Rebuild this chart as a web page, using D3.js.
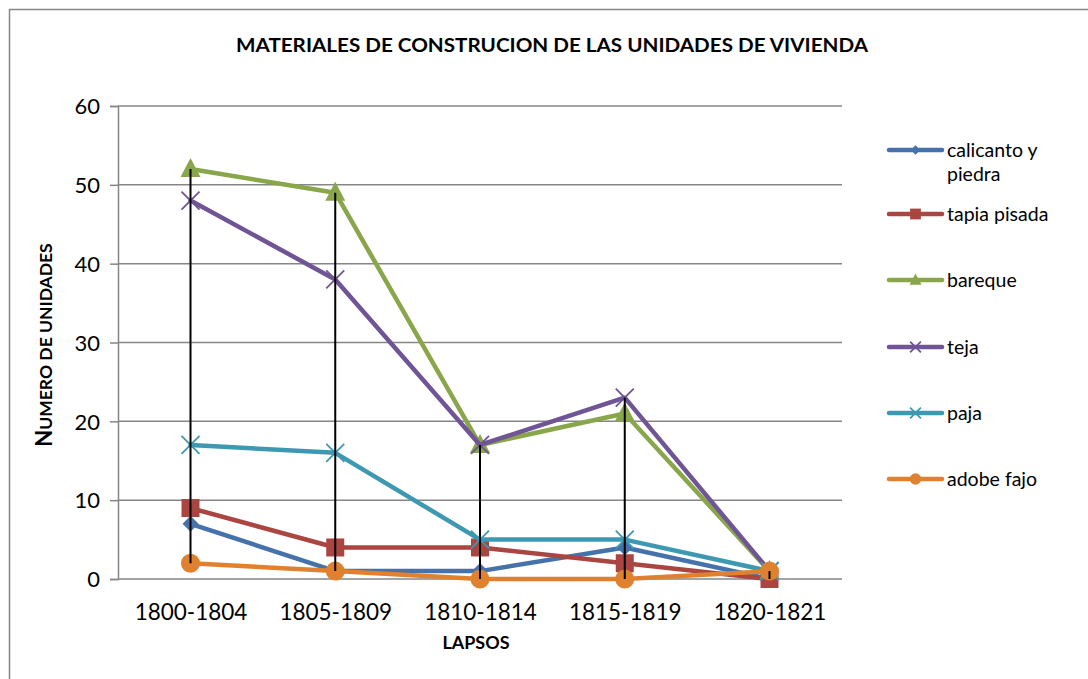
<!DOCTYPE html>
<html><head><meta charset="utf-8">
<script src="https://cdn.jsdelivr.net/npm/d3@7"></script>
<style>body{margin:0;background:#fff}svg{display:block}text{font-family:Lato,"Open Sans",sans-serif;fill:#000}</style>
</head><body>
<script>
const categories = ["1800-1804","1805-1809","1810-1814","1815-1819","1820-1821"];
const calicanto = [7,1,1,4,0];
const tapia = [9,4,4,2,0];
const bareque = [52,49,17,21,1];
const teja = [48,38,17,23,1];
const paja = [17,16,5,5,1];
const adobe = [2,1,0,0,1];
const yTicks = [0,10,20,30,40,50,60];
const seriesNames = ["calicanto y piedra","tapia pisada","bareque","teja","paja","adobe fajo"];

const series = [
  {name:seriesNames[0], values:calicanto, color:"#4672ab", marker:"diamond"},
  {name:seriesNames[1], values:tapia, color:"#aa4542", marker:"square"},
  {name:seriesNames[2], values:bareque, color:"#89a64b", marker:"triangle"},
  {name:seriesNames[3], values:teja, color:"#6f5596", marker:"x"},
  {name:seriesNames[4], values:paja, color:"#3d98b2", marker:"star"},
  {name:seriesNames[5], values:adobe, color:"#e0812f", marker:"circle"}
];

const W=1088,H=679;
const svg=d3.select("body").append("svg").attr("width",W).attr("height",H);
svg.append("rect").attr("x",9.5).attr("y",9.5).attr("width",1200).attr("height",800).attr("fill","none").attr("stroke","#868686").attr("stroke-width",1.5);

const x=d3.scalePoint().domain(categories).range([190.5,769.5]).padding(0);
const y=d3.scaleLinear().domain([0,60]).range([579,106]);
const left=118, right=842;

// gridlines
svg.append("g").selectAll("line").data(yTicks).join("line")
  .attr("x1",left).attr("x2",right).attr("y1",d=>y(d)).attr("y2",d=>y(d))
  .attr("stroke","#868686").attr("stroke-width",1.5);
// y axis
const yAxis=d3.axisLeft(y).tickValues(yTicks).tickSize(8).tickPadding(10);
const gy=svg.append("g").attr("transform",`translate(${left},0)`).call(yAxis);
gy.select(".domain").attr("stroke","#868686").attr("stroke-width",1.5);
gy.selectAll(".tick line").attr("stroke","#868686").attr("stroke-width",1.5);
gy.selectAll(".tick text").style("font-size","22px").attr("fill","#000").attr("dy","0.35em");
// x axis labels
const xAxis=d3.axisBottom(x).tickSize(0).tickPadding(27);
const gx=svg.append("g").attr("transform",`translate(0,${y(0)})`).call(xAxis);
gx.select(".domain").remove();
gx.selectAll(".tick text").style("font-size","22.5px").attr("fill","#000").attr("dy","0.6em");

// title
svg.append("text").attr("x",552).attr("y",52).attr("text-anchor","middle")
  .attr("textLength",632).attr("lengthAdjust","spacingAndGlyphs")
  .style("font-size","18.5px").style("font-weight","bold").text("MATERIALES DE CONSTRUCION DE LAS UNIDADES DE VIVIENDA");
svg.append("text").attr("x",476).attr("y",649).attr("text-anchor","middle")
  .attr("textLength",67).attr("lengthAdjust","spacingAndGlyphs")
  .style("font-size","16.5px").style("font-weight","bold").text("LAPSOS");
const yt=svg.append("text").attr("transform","translate(52,345) rotate(-90)").attr("text-anchor","middle")
  .style("font-weight","bold");
yt.append("tspan").style("font-size","22px").text("N");
yt.append("tspan").style("font-size","17.5px").text("UMERO DE UNIDADES");

const line=d3.line().x((d,i)=>x(categories[i])).y(d=>y(d));

function drawMarker(g,type,color,cx,cy,s){
  if(type==="diamond"){
    g.append("path").attr("d",`M${cx},${cy-8*s}L${cx+8*s},${cy}L${cx},${cy+8*s}L${cx-8*s},${cy}Z`).attr("fill",color);
  } else if(type==="square"){
    g.append("rect").attr("x",cx-9*s).attr("y",cy-9*s).attr("width",18*s).attr("height",18*s).attr("fill",color);
  } else if(type==="triangle"){
    g.append("path").attr("d",`M${cx},${cy-11*s}L${cx+10*s},${cy+8*s}L${cx-10*s},${cy+8*s}Z`).attr("fill",color);
  } else if(type==="x"){
    const r=9*s;
    g.append("path").attr("d",`M${cx-r},${cy-r}L${cx+r},${cy+r}M${cx-r},${cy+r}L${cx+r},${cy-r}`).attr("stroke",color).attr("stroke-width",1.8);
  } else if(type==="star"){
    const r=9*s;
    g.append("path").attr("d",`M${cx-r},${cy-r}L${cx+r},${cy+r}M${cx-r},${cy+r}L${cx+r},${cy-r}M${cx},${cy-r*0.3}L${cx},${cy+r*0.3}`).attr("stroke",color).attr("stroke-width",1.8);
  } else if(type==="circle"){
    g.append("circle").attr("cx",cx).attr("cy",cy).attr("r",9.5*s).attr("fill",color);
  }
}

const plot=svg.append("g");
series.forEach(s=>{
  const g=plot.append("g");
  g.append("path").datum(s.values).attr("d",line).attr("fill","none").attr("stroke",s.color).attr("stroke-width",4.5).attr("stroke-linejoin","round").attr("stroke-linecap","round");
  s.values.forEach((v,i)=>drawMarker(g,s.marker,s.color,x(categories[i]),y(v),1));
});

// high-low lines
categories.forEach((c,i)=>{
  const vals=series.map(s=>s.values[i]);
  svg.append("line").attr("x1",x(c)).attr("x2",x(c)).attr("y1",y(d3.max(vals))).attr("y2",y(d3.min(vals)))
    .attr("stroke","#000").attr("stroke-width",2);
});

// legend
const legY=[150,214,280,347,413,479];
series.forEach((s,i)=>{
  const g=svg.append("g");
  const ly=legY[i];
  g.append("line").attr("x1",889).attr("x2",942).attr("y1",ly).attr("y2",ly).attr("stroke",s.color).attr("stroke-width",4.5).attr("stroke-linecap","round");
  drawMarker(g,s.marker,s.color,915.5,ly,0.6);
  const t=g.append("text").attr("x",947).attr("y",ly).attr("dy","0.35em").style("font-size","19.5px");
  if(i===0){
    t.append("tspan").text("calicanto y");
    t.append("tspan").attr("x",947).attr("dy","1.25em").text("piedra");
  } else t.text(s.name);
});
</script>
</body></html>
